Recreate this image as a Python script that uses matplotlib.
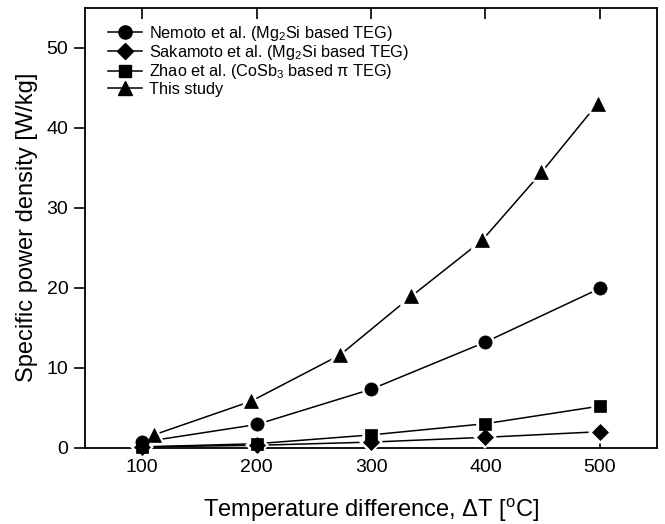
import matplotlib
matplotlib.use("Agg")
import matplotlib.pyplot as plt
from matplotlib.lines import Line2D

plt.rcParams['font.family'] = ['Liberation Sans', 'DejaVu Sans']
plt.rcParams['mathtext.fontset'] = 'custom'
plt.rcParams['mathtext.rm'] = 'Liberation Sans'
plt.rcParams['mathtext.it'] = 'Liberation Sans:italic'
plt.rcParams['mathtext.sf'] = 'Liberation Sans'

# Data
nemoto_x = [100, 200, 300, 400, 500]
nemoto_y = [0.7, 2.9, 7.3, 13.2, 19.9]
sakamoto_x = [100, 200, 300, 400, 500]
sakamoto_y = [0.1, 0.3, 0.7, 1.3, 2.0]
zhao_x = [100, 200, 300, 400, 500]
zhao_y = [0.1, 0.5, 1.6, 3.0, 5.2]
study_x = [110, 195, 273, 335, 397, 449, 498]
study_y = [1.6, 5.8, 11.6, 18.9, 25.9, 34.4, 43.0]

labels = ["Nemoto et al. (Mg$_2$Si based TEG)",
          "Sakamoto et al. (Mg$_2$Si based TEG)",
          "Zhao et al. (CoSb$_3$ based \u03c0 TEG)",
          "This study"]
x_ticks = [100, 200, 300, 400, 500]
y_ticks = [0, 10, 20, 30, 40, 50]

series = [(nemoto_x, nemoto_y, 'o', 9.5),
          (sakamoto_x, sakamoto_y, 'D', 8.5),
          (zhao_x, zhao_y, 's', 8),
          (study_x, study_y, '^', 10)]

fig = plt.figure(figsize=(6.65, 5.24), dpi=100)
ax = fig.add_axes([0.128, 0.1456, 0.86, 0.840])

for xs, ys, m, ms in series:
    ax.plot(xs, ys, '-', color='black', lw=1.1, zorder=2, clip_on=False)
for xs, ys, m, ms in series:
    ax.plot(xs, ys, linestyle='none', marker=m, ms=ms, mfc='white', mec='white',
            mew=4, zorder=3, clip_on=False)
for xs, ys, m, ms in series:
    ax.plot(xs, ys, linestyle='none', marker=m, ms=ms, mfc='black', mec='black',
            mew=0.5, zorder=4, clip_on=False)

ax.set_xlim(50, 550)
ax.set_ylim(0, 55)
ax.set_xticks(x_ticks)
ax.set_yticks(y_ticks)
ax.tick_params(axis='x', direction='in', length=8, width=1.2, top=True, labelsize=14, pad=8)
ax.tick_params(axis='y', direction='out', length=8, width=1.2, left=True, right=False, labelsize=14, pad=4)
for s in ax.spines.values():
    s.set_linewidth(1.3)

ax.set_xlabel("Temperature difference, \u0394T [$^{\\mathrm{o}}$C]", fontsize=17, labelpad=15)
ax.set_ylabel("Specific power density [W/kg]", fontsize=17, labelpad=6)

handles = [Line2D([], [], color='black', lw=1.1, marker=m, ms=ms, mfc='black', mec='black')
           for _, _, m, ms in series]
leg = ax.legend(handles, labels, loc='upper left', bbox_to_anchor=(0.012, 1.0),
                frameon=False, fontsize=11.7, handlelength=2.1, handletextpad=0.4,
                labelspacing=0.02, borderaxespad=0.6)

fig.savefig("out.png", dpi=100)
